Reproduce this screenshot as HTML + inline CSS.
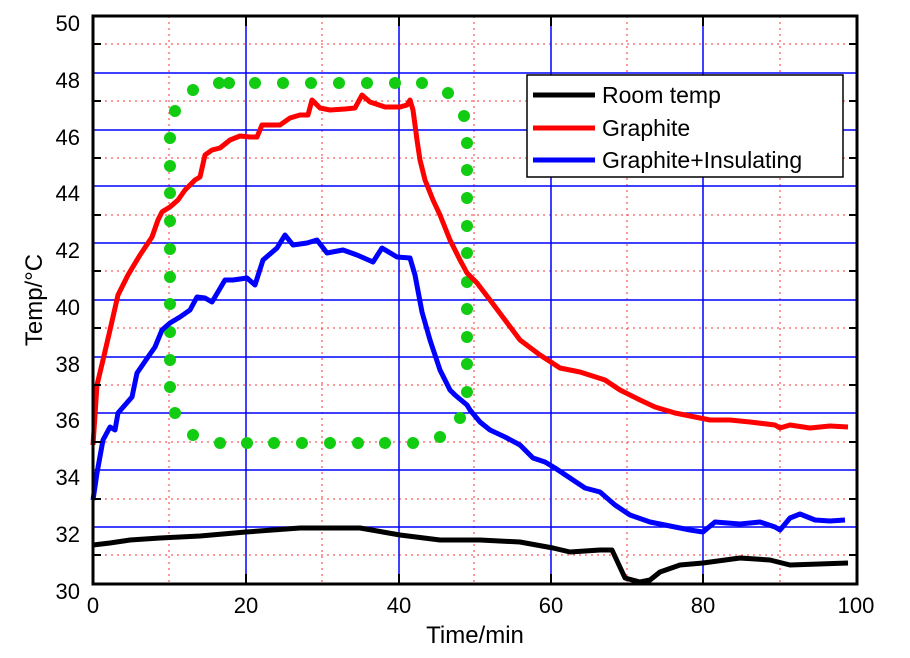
<!DOCTYPE html>
<html><head><meta charset="utf-8"><style>body{margin:0;background:#fff}svg{display:block}text{font-family:"Liberation Sans",Arial,sans-serif;fill:#000}</style></head>
<body>
<svg width="910" height="658" viewBox="0 0 910 658" xmlns="http://www.w3.org/2000/svg">
<g stroke="#f33" stroke-width="1" stroke-dasharray="2,4">
<line x1="93" x2="857" y1="44" y2="44"/><line x1="93" x2="857" y1="101" y2="101"/><line x1="93" x2="857" y1="158" y2="158"/><line x1="93" x2="857" y1="215" y2="215"/><line x1="93" x2="857" y1="271" y2="271"/><line x1="93" x2="857" y1="328" y2="328"/><line x1="93" x2="857" y1="385" y2="385"/><line x1="93" x2="857" y1="442" y2="442"/><line x1="93" x2="857" y1="499" y2="499"/><line x1="93" x2="857" y1="555" y2="555"/>
<line y1="16" y2="584" x1="169" x2="169"/><line y1="16" y2="584" x1="322" x2="322"/><line y1="16" y2="584" x1="474" x2="474"/><line y1="16" y2="584" x1="627" x2="627"/><line y1="16" y2="584" x1="780" x2="780"/>
</g>
<g stroke="#00f" stroke-width="1.5">
<line x1="93" x2="857" y1="73" y2="73"/><line x1="93" x2="857" y1="130" y2="130"/><line x1="93" x2="857" y1="186" y2="186"/><line x1="93" x2="857" y1="243" y2="243"/><line x1="93" x2="857" y1="300" y2="300"/><line x1="93" x2="857" y1="357" y2="357"/><line x1="93" x2="857" y1="413" y2="413"/><line x1="93" x2="857" y1="470" y2="470"/><line x1="93" x2="857" y1="527" y2="527"/>
<line y1="16" y2="584" x1="246" x2="246"/><line y1="16" y2="584" x1="399" x2="399"/><line y1="16" y2="584" x1="551" x2="551"/><line y1="16" y2="584" x1="703" x2="703"/>
</g>
<g fill="#1c1" >
<circle cx="175" cy="111" r="6"/><circle cx="193" cy="90" r="6"/><circle cx="219" cy="83" r="6"/><circle cx="229" cy="83" r="6"/><circle cx="255" cy="83" r="6"/><circle cx="283" cy="83" r="6"/><circle cx="311" cy="83" r="6"/><circle cx="339" cy="83" r="6"/><circle cx="367" cy="83" r="6"/><circle cx="395" cy="83" r="6"/><circle cx="422" cy="83" r="6"/><circle cx="448" cy="93" r="6"/><circle cx="464" cy="116" r="6"/><circle cx="467" cy="143" r="6"/><circle cx="467" cy="170" r="6"/><circle cx="467" cy="198" r="6"/><circle cx="467" cy="226" r="6"/><circle cx="467" cy="253" r="6"/><circle cx="467" cy="282" r="6"/><circle cx="467" cy="309" r="6"/><circle cx="467" cy="337" r="6"/><circle cx="467" cy="364" r="6"/><circle cx="467" cy="392" r="6"/><circle cx="460" cy="418" r="6"/><circle cx="440" cy="437" r="6"/><circle cx="413" cy="443" r="6"/><circle cx="385" cy="443" r="6"/><circle cx="358" cy="443" r="6"/><circle cx="330" cy="443" r="6"/><circle cx="302" cy="443" r="6"/><circle cx="274" cy="443" r="6"/><circle cx="247" cy="443" r="6"/><circle cx="220" cy="443" r="6"/><circle cx="193" cy="435" r="6"/><circle cx="175" cy="413" r="6"/><circle cx="170" cy="387" r="6"/><circle cx="170" cy="360" r="6"/><circle cx="170" cy="332" r="6"/><circle cx="170" cy="304" r="6"/><circle cx="170" cy="277" r="6"/><circle cx="170" cy="249" r="6"/><circle cx="170" cy="221" r="6"/><circle cx="170" cy="193" r="6"/><circle cx="170" cy="166" r="6"/><circle cx="170" cy="138" r="6"/>
</g>
<g fill="none" stroke-width="5" stroke-linejoin="round">
<polyline stroke="#f00" points="93,445 97,385 103,360 110,330 118,295 128,275 140,255 152,237 158,220 162,212 165,210 170,207 178,200 185,190 195,180 200,177 205,155 212,150 220,148 230,140 240,136 250,137 257,137 262,125 270,125 280,125 290,118 300,115 308,115 312,100 320,108 330,110 345,109 355,108 362,95 370,102 385,107 400,107 407,105 410,100 413,110 417,140 420,160 425,180 433,200 440,215 450,240 460,260 467,273 477,283 490,300 505,320 520,340 540,355 560,368 580,372 605,380 620,390 640,400 655,407 675,413 700,418 710,420 730,420 750,422 775,425 780,428 790,425 810,428 830,426 848,427"/>
<polyline stroke="#00f" points="93,500 97,473 103,440 110,427 115,430 118,413 132,397 137,373 148,357 155,347 162,330 170,323 180,317 190,310 197,297 205,298 212,302 225,280 233,280 247,278 255,285 263,260 277,248 285,235 293,245 307,243 317,240 327,253 343,250 357,255 373,262 382,248 397,257 410,258 415,275 422,312 430,340 440,370 450,390 455,395 467,405 470,410 480,422 490,430 505,437 520,445 533,458 545,462 555,468 570,478 585,488 600,492 615,505 630,515 650,522 670,526 690,530 703,532 715,522 740,524 760,522 775,527 780,530 790,518 800,514 815,520 830,521 845,520"/>
<polyline stroke="#000" points="93,545 110,543 130,540 160,538 200,536 246,532 300,528 360,528 400,535 440,540 480,540 520,542 553,548 570,552 600,550 612,550 625,578 640,582 650,580 660,572 680,565 703,563 740,558 770,560 790,565 848,563"/>
</g>
<rect x="93" y="16" width="764" height="568" fill="none" stroke="#000" stroke-width="3"/>
<g stroke="#000" stroke-width="2">
<line x1="246" x2="246" y1="16" y2="26"/><line x1="399" x2="399" y1="16" y2="26"/><line x1="551" x2="551" y1="16" y2="26"/><line x1="703" x2="703" y1="16" y2="26"/>
<line x1="246" x2="246" y1="584" y2="574"/><line x1="399" x2="399" y1="584" y2="574"/><line x1="551" x2="551" y1="584" y2="574"/><line x1="703" x2="703" y1="584" y2="574"/>
<line x1="93" x2="101" y1="44" y2="44"/><line x1="93" x2="101" y1="101" y2="101"/><line x1="93" x2="101" y1="158" y2="158"/><line x1="93" x2="101" y1="215" y2="215"/><line x1="93" x2="101" y1="271" y2="271"/><line x1="93" x2="101" y1="328" y2="328"/><line x1="93" x2="101" y1="385" y2="385"/><line x1="93" x2="101" y1="442" y2="442"/><line x1="93" x2="101" y1="499" y2="499"/><line x1="93" x2="101" y1="555" y2="555"/>
<line x1="857" x2="849" y1="44" y2="44"/><line x1="857" x2="849" y1="101" y2="101"/><line x1="857" x2="849" y1="158" y2="158"/><line x1="857" x2="849" y1="215" y2="215"/><line x1="857" x2="849" y1="271" y2="271"/><line x1="857" x2="849" y1="328" y2="328"/><line x1="857" x2="849" y1="385" y2="385"/><line x1="857" x2="849" y1="442" y2="442"/><line x1="857" x2="849" y1="499" y2="499"/><line x1="857" x2="849" y1="555" y2="555"/>
</g>
<g font-size="22" text-anchor="end">
<text x="80" y="31">50</text><text x="80" y="88">48</text><text x="80" y="145">46</text><text x="80" y="201">44</text><text x="80" y="258">42</text><text x="80" y="315">40</text><text x="80" y="372">38</text><text x="80" y="428">36</text><text x="80" y="485">34</text><text x="80" y="542">32</text><text x="80" y="599">30</text>
</g>
<g font-size="22" text-anchor="middle">
<text x="93" y="613">0</text><text x="246" y="613">20</text><text x="399" y="613">40</text><text x="551" y="613">60</text><text x="703" y="613">80</text><text x="856" y="613">100</text>
</g>
<text x="475" y="643" font-size="24" text-anchor="middle">Time/min</text>
<text transform="translate(42,300) rotate(-90)" font-size="24" text-anchor="middle">Temp/°C</text>
<rect x="527" y="75" width="316" height="102" fill="#fff" stroke="#000" stroke-width="1.5"/>
<g stroke-width="5"><line x1="533" x2="595" y1="95" y2="95" stroke="#000"/><line x1="533" x2="595" y1="128" y2="128" stroke="#f00"/><line x1="533" x2="595" y1="160" y2="160" stroke="#00f"/></g>
<g font-size="23"><text x="602" y="103">Room temp</text><text x="602" y="136">Graphite</text><text x="602" y="168">Graphite+Insulating</text></g>
</svg>
</body></html>
